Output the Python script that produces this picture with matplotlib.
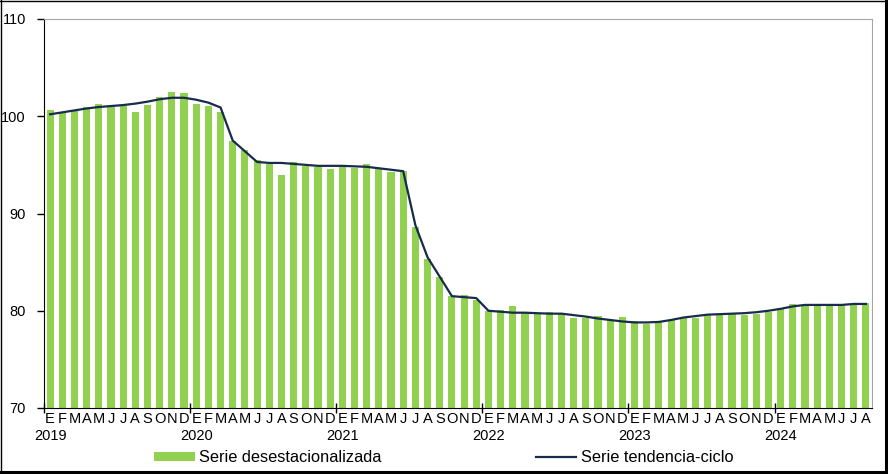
import matplotlib
matplotlib.use("Agg")
import matplotlib.pyplot as plt
from matplotlib.lines import Line2D
import numpy as np

plt.rcParams['font.family'] = ['Liberation Sans', 'DejaVu Sans']

years = ['2019', '2020', '2021', '2022', '2023', '2024']
month_letters = ['E', 'F', 'M', 'A', 'M', 'J', 'J', 'A', 'S', 'O', 'N', 'D']

desest = [
    100.6, 100.4, 100.5, 101.0, 101.3, 100.9, 101.1, 100.4, 101.2, 102.0, 102.5, 102.4,
    101.3, 101.1, 100.4, 97.5, 96.5, 95.5, 95.1, 94.0, 95.3, 94.9, 94.75, 94.6,
    94.8, 94.7, 95.1, 94.6, 94.25, 94.35, 88.6, 85.3, 83.5, 81.5, 81.6, 81.1,
    80.0, 80.1, 80.5, 79.8, 79.7, 79.9, 79.8, 79.3, 79.3, 79.45, 79.0, 79.35,
    78.95, 78.65, 78.9, 79.0, 79.4, 79.25, 79.6, 79.7, 79.8, 79.55, 79.65, 79.9,
    80.25, 80.7, 80.6, 80.6, 80.6, 80.6, 80.7, 80.8,
]
tendencia = [
    100.2, 100.4, 100.6, 100.8, 100.95, 101.05, 101.15, 101.3, 101.5, 101.75, 101.9, 101.9,
    101.7, 101.4, 100.9, 97.5, 96.4, 95.3, 95.2, 95.2, 95.1, 95.0, 94.9, 94.9,
    94.9, 94.85, 94.8, 94.65, 94.5, 94.35, 88.8, 85.5, 83.5, 81.5, 81.4, 81.3,
    80.0, 79.9, 79.8, 79.8, 79.75, 79.7, 79.7, 79.55, 79.4, 79.2, 79.05, 78.9,
    78.8, 78.8, 78.85, 79.05, 79.3, 79.45, 79.6, 79.65, 79.7, 79.75, 79.85, 80.0,
    80.2, 80.45, 80.6, 80.6, 80.6, 80.6, 80.7, 80.7,
]
yticks = [70, 80, 90, 100, 110]

W, H = 888, 474
fig = plt.figure(figsize=(W / 100, H / 100), dpi=100)
ax = fig.add_axes([44 / W, 1 - 408 / H, (872 - 44) / W, (408 - 19) / H])

n = len(desest)
x = np.arange(n) + 0.5
bars = ax.bar(x, desest, width=0.58, color='#92D050', label='Serie desestacionalizada', zorder=2)
line, = ax.plot(x, tendencia, color='#172B4D', lw=1.6, label='Serie tendencia-ciclo', zorder=3)

ax.set_xlim(0, n)
ax.set_ylim(70, 110)
ax.set_yticks(yticks)
ax.set_yticklabels([str(v) for v in yticks], fontsize=10.5)
ax.tick_params(axis='y', direction='out', length=5, width=1, pad=8)

ax.set_xticks([12 * k for k in range(len(years))])
ax.set_xticklabels([])
ax.tick_params(axis='x', direction='inout', length=7, width=1)

for s in ['top', 'right']:
    ax.spines[s].set_color('#A6A6A6')
for s in ['left', 'bottom']:
    ax.spines[s].set_color('black')

trans = ax.get_xaxis_transform()
for i in range(n):
    ax.text(x[i], -0.027, month_letters[i % 12], transform=trans, ha='center', va='center',
            fontsize=10.5, clip_on=False)
for k, yr in enumerate(years):
    ax.text(12 * k + 0.5, -0.073, yr, transform=trans, ha='center', va='center',
            fontsize=10.5, clip_on=False)

fig.legend(handles=[bars, line], loc='center', bbox_to_anchor=(0.5, 1 - 458 / H), ncol=2,
           frameon=False, fontsize=11.8, handlelength=2.45, handleheight=0.5,
           columnspacing=9.4, handletextpad=0.3)

# figure border
fig.add_artist(Line2D([0.5 / W, 0.5 / W], [0, 1], color='black', lw=1, transform=fig.transFigure))
fig.add_artist(Line2D([0, 1], [1 - 0.5 / H, 1 - 0.5 / H], color='black', lw=1, transform=fig.transFigure))
fig.add_artist(Line2D([1 - 2.5 / W, 1 - 2.5 / W], [0, 1], color='black', lw=2.2, transform=fig.transFigure))
fig.add_artist(Line2D([0, 1], [2.5 / H, 2.5 / H], color='black', lw=2.2, transform=fig.transFigure))

fig.savefig('out.png', dpi=100)
